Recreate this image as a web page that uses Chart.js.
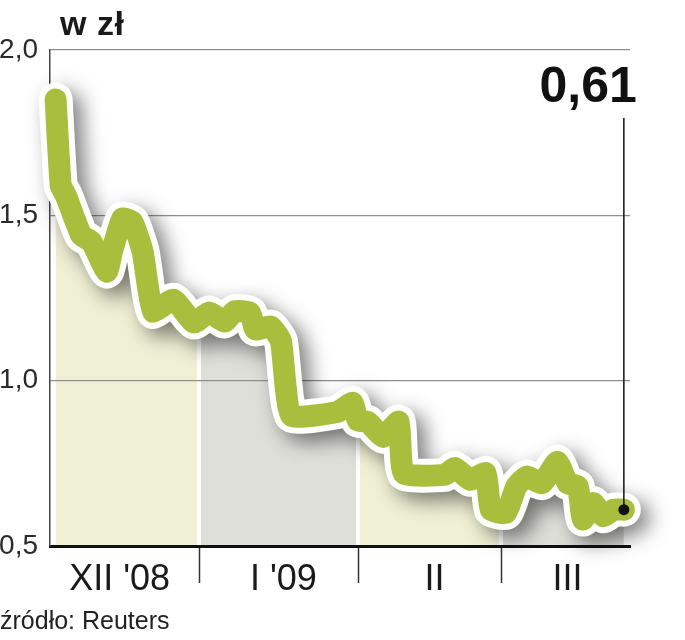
<!DOCTYPE html>
<html><head><meta charset="utf-8">
<script src="https://cdn.jsdelivr.net/npm/chart.js@4.4.1/dist/chart.umd.min.js"></script>
<style>
html,body{margin:0;padding:0;background:#fff;}
#wrap{position:relative;width:685px;height:640px;overflow:hidden;}
canvas{position:absolute;left:0;top:0;}
.t{position:absolute;font-family:'Liberation Sans',Arial,sans-serif;color:#1a1a1a;white-space:nowrap;line-height:1;}
#unit{left:60px;top:6px;font-size:34px;font-weight:bold;letter-spacing:0.5px;}
#src{left:0px;top:608px;font-size:25px;color:#222;}
</style></head><body>
<div id="wrap"><canvas id="c" width="685" height="640"></canvas>
<div class="t" id="unit">w zł</div>
<div class="t" id="src">źródło: Reuters</div>
</div>
<script>
// ---- data (day 1 = 1 Dec 2008) ----
const days = [4,5,6,9,11,14,15,17,19,21,23,27,31,34,37,39,42,43,46,48,50,59,62,63,65,68,71,72,80,82,85,88,89,92,94,96,99,102,104,106,107,109,111,113,115];
const prices = [1.85,1.59,1.56,1.44,1.42,1.33,1.39,1.49,1.48,1.39,1.21,1.245,1.176,1.206,1.179,1.21,1.205,1.155,1.164,1.12,0.895,0.905,0.933,0.88,0.875,0.83,0.876,0.72,0.715,0.736,0.70,0.72,0.61,0.60,0.68,0.71,0.69,0.755,0.69,0.68,0.58,0.63,0.59,0.61,0.61];
const monthLabels = ["XII '08", "I '09", "II", "III"];
const monthLabelDays = [16.5, 48.5, 78, 104];
const monthStartDays = [32, 63, 91];
const yTicks = [0.5, 1.0, 1.5, 2.0];
const xRange = [2.9, 116.2];

const GREEN = '#aabe3e';
const bandColors = ['#eff0d4', '#dedfd9', '#eff0d4', '#dedfd9'];

const points = days.map((d, i) => ({x: d, y: prices[i]}));
const fmt = v => v.toFixed(2).replace('.', ',');

function bandFill(ctx) {
  const chart = ctx.chart;
  const area = chart.chartArea;
  if (!area || !chart.scales.x) return bandColors[0];
  const xs = chart.scales.x;
  const w = area.right - area.left;
  const g = chart.ctx.createLinearGradient(area.left, 0, area.right, 0);
  const h = 2 / w;
  g.addColorStop(0, bandColors[0]);
  monthStartDays.forEach((d, i) => {
    const p = (xs.getPixelForValue(d) - area.left) / w;
    g.addColorStop(Math.max(0, p - h), bandColors[i]);
    g.addColorStop(Math.max(0, p - h), '#ffffff');
    g.addColorStop(Math.min(1, p + h), '#ffffff');
    g.addColorStop(Math.min(1, p + h), bandColors[i + 1]);
  });
  g.addColorStop(1, bandColors[monthStartDays.length]);
  return g;
}

const shadowPlugin = {
  id: 'shadow',
  beforeDatasetDraw(chart, args) {
    if (args.index === 1) {
      const c = chart.ctx;
      c.save();
      c.shadowColor = 'rgba(0,0,0,0.5)';
      c.shadowBlur = 20;
      c.shadowOffsetX = 9;
      c.shadowOffsetY = 8;
    }
  },
  afterDatasetDraw(chart, args) {
    if (args.index === 1) chart.ctx.restore();
  }
};

const decorPlugin = {
  id: 'decor',
  afterDraw(chart) {
    const c = chart.ctx;
    const area = chart.chartArea;
    const xs = chart.scales.x;
    c.save();
    c.strokeStyle = '#333';
    c.lineWidth = 1.5;
    monthStartDays.forEach(d => {
      const x = Math.round(xs.getPixelForValue(d)) + 0.5;
      c.beginPath();
      c.moveTo(x, area.bottom + 2);
      c.lineTo(x, area.bottom + 37);
      c.stroke();
    });
    const meta = chart.getDatasetMeta(0);
    const pt = meta.data[meta.data.length - 1];
    const labelBase = area.top + 52;
    c.strokeStyle = '#111';
    c.lineWidth = 1.5;
    c.beginPath();
    c.moveTo(pt.x, labelBase + 16);
    c.lineTo(pt.x, pt.y);
    c.stroke();
    c.fillStyle = '#111';
    c.beginPath();
    c.arc(pt.x, pt.y, 5.5, 0, Math.PI * 2);
    c.fill();
    c.font = "bold 50px 'Liberation Sans', Arial, sans-serif";
    c.textAlign = 'right';
    c.textBaseline = 'alphabetic';
    c.fillText(fmt(prices[prices.length - 1]), pt.x + 13, labelBase);
    c.restore();
  }
};

new Chart(document.getElementById('c'), {
  type: 'line',
  data: {
    datasets: [
      { data: points, borderColor: GREEN, borderWidth: 22, fill: false, pointRadius: 0,
        borderJoinStyle: 'round', borderCapStyle: 'round', tension: 0.15, order: 0, clip: false },
      { data: points, borderColor: '#ffffff', borderWidth: 34, fill: false, pointRadius: 0,
        borderJoinStyle: 'round', borderCapStyle: 'round', tension: 0.15, order: 1, clip: false },
      { data: points, borderWidth: 0, borderColor: 'rgba(0,0,0,0)', fill: 'start', backgroundColor: bandFill,
        pointRadius: 0, tension: 0.15, order: 2 }
    ]
  },
  options: {
    responsive: false,
    animation: false,
    events: [],
    layout: { padding: { left: 0, right: 55, top: 50, bottom: 0 } },
    plugins: { legend: { display: false }, tooltip: { enabled: false }, filler: { drawTime: 'beforeDraw' } },
    scales: {
      x: {
        type: 'linear', min: xRange[0], max: xRange[1],
        afterBuildTicks: s => { s.ticks = monthLabelDays.map(v => ({value: v})); },
        afterFit: s => { s.height = 94; },
        grid: { display: false, drawTicks: false },
        border: { display: true, color: '#111', width: 3 },
        ticks: { autoSkip: false, maxRotation: 0, padding: 12, color: '#1a1a1a',
          font: { family: "'Liberation Sans', Arial, sans-serif", size: 36 },
          callback: (v, i) => monthLabels[i] }
      },
      y: {
        min: 0.5, max: 2.0,
        afterBuildTicks: s => { s.ticks = yTicks.map(v => ({value: v})); },
        afterFit: s => { s.width = 50; },
        grid: { color: '#8f8f8f', lineWidth: 1.3, drawTicks: false },
        border: { display: true, color: '#444', width: 1.5 },
        ticks: { padding: 12, color: '#2a2a2a',
          font: { family: "'Liberation Sans', Arial, sans-serif", size: 28 },
          callback: v => v.toFixed(1).replace('.', ',') }
      }
    }
  },
  plugins: [shadowPlugin, decorPlugin]
});
</script>
</body></html>
